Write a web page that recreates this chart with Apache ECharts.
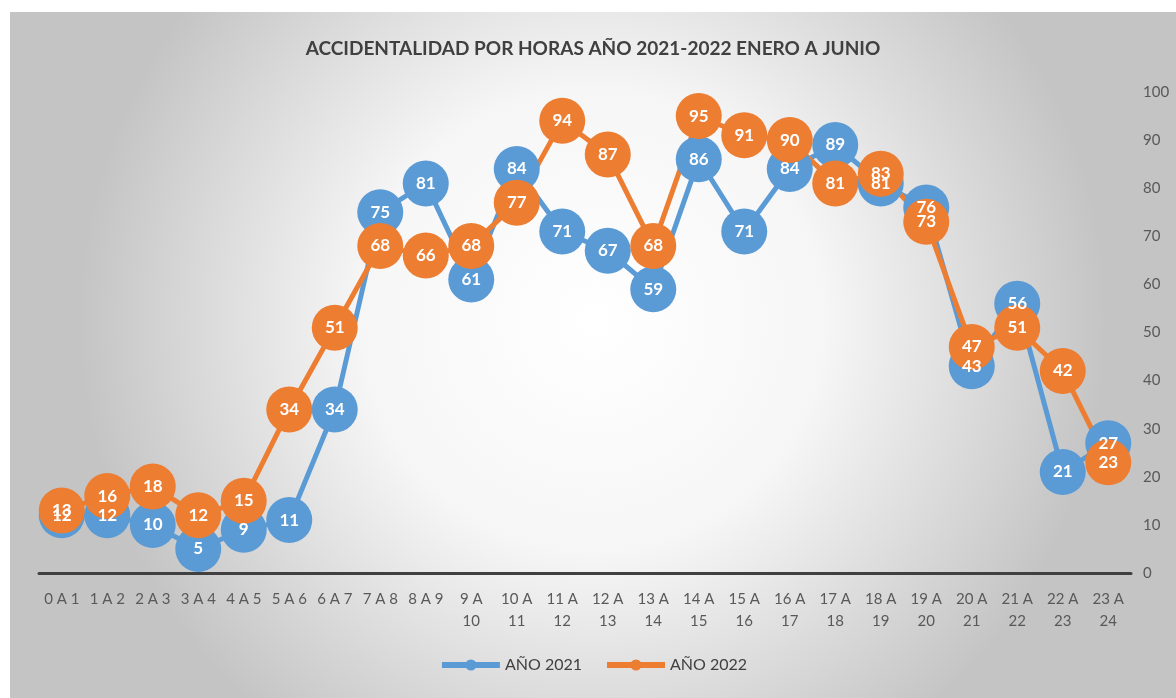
<!DOCTYPE html>
<html>
<head>
<meta charset="utf-8">
<script src="https://cdn.jsdelivr.net/npm/echarts@6/dist/echarts.min.js"></script>
<style>
    body { margin: 0; background: #fff; }
    #main { position: absolute; left: 10px; top: 12px; width: 1166px; height: 686px; }
</style>
</head>
<body>
<div id="main"></div>
<script>
// franjas horarias
var horas = ['0 A 1', '1 A 2', '2 A 3', '3 A 4', '4 A 5', '5 A 6', '6 A 7', '7 A 8', '8 A 9',
    '9 A\n10', '10 A\n11', '11 A\n12', '12 A\n13', '13 A\n14', '14 A\n15', '15 A\n16', '16 A\n17',
    '17 A\n18', '18 A\n19', '19 A\n20', '20 A\n21', '21 A\n22', '22 A\n23', '23 A\n24'];

var anio2021 = [12, 12, 10, 5, 9, 11, 34, 75, 81, 61, 84, 71, 67, 59, 86, 71, 84, 89, 81, 76, 43, 56, 21, 27];
var anio2022 = [13, 16, 18, 12, 15, 34, 51, 68, 66, 68, 77, 94, 87, 68, 95, 91, 90, 81, 83, 73, 47, 51, 42, 23];

var myChart = echarts.init(document.getElementById('main'));

function serie(nombre, datos, color) {
    return {
        name: nombre,
        type: 'line',
        data: datos,
        symbol: 'circle',
        symbolSize: 46,
        lineStyle: { width: 5, color: color },
        itemStyle: { color: color },
        label: {
            show: true,
            position: 'inside',
            color: '#fff',
            fontWeight: 'bold',
            fontSize: 17,
            fontFamily: 'Lato'
        },
        emphasis: { disabled: true }
    };
}

var option = {
    backgroundColor: new echarts.graphic.RadialGradient(0.5, 0.45, 0.75, [
        { offset: 0, color: '#ffffff' },
        { offset: 0.45, color: '#f6f6f6' },
        { offset: 1, color: '#c4c4c4' }
    ]),
    textStyle: { fontFamily: 'Lato' },
    title: {
        text: 'ACCIDENTALIDAD POR HORAS AÑO 2021-2022 ENERO A JUNIO',
        left: 'center',
        top: 22,
        textStyle: { fontSize: 19, fontWeight: 'bold', color: '#404040', fontFamily: 'Lato' }
    },
    legend: {
        bottom: 20,
        left: 'center',
        itemWidth: 58,
        itemHeight: 14,
        itemGap: 22,
        lineStyle: { width: 6 },
        textStyle: { fontSize: 16, color: '#404040', fontFamily: 'Lato' },
        data: ['AÑO 2021', 'AÑO 2022']
    },
    grid: { left: 29, right: 45, top: 80, bottom: 125 },
    xAxis: {
        type: 'category',
        data: horas,
        boundaryGap: true,
        axisLine: { lineStyle: { color: '#404040', width: 3 } },
        axisTick: { show: false },
        axisLabel: { color: '#595959', fontSize: 15, lineHeight: 22, margin: 15, interval: 0 }
    },
    yAxis: {
        type: 'value',
        position: 'right',
        min: 0,
        max: 100,
        interval: 10,
        splitLine: { show: false },
        axisLine: { show: false },
        axisTick: { show: false },
        axisLabel: { color: '#595959', fontSize: 15, margin: 12 }
    },
    series: [
        serie('AÑO 2021', anio2021, '#5b9bd5'),
        serie('AÑO 2022', anio2022, '#ed7d31')
    ]
};

myChart.setOption(option);
</script>
</body>
</html>
